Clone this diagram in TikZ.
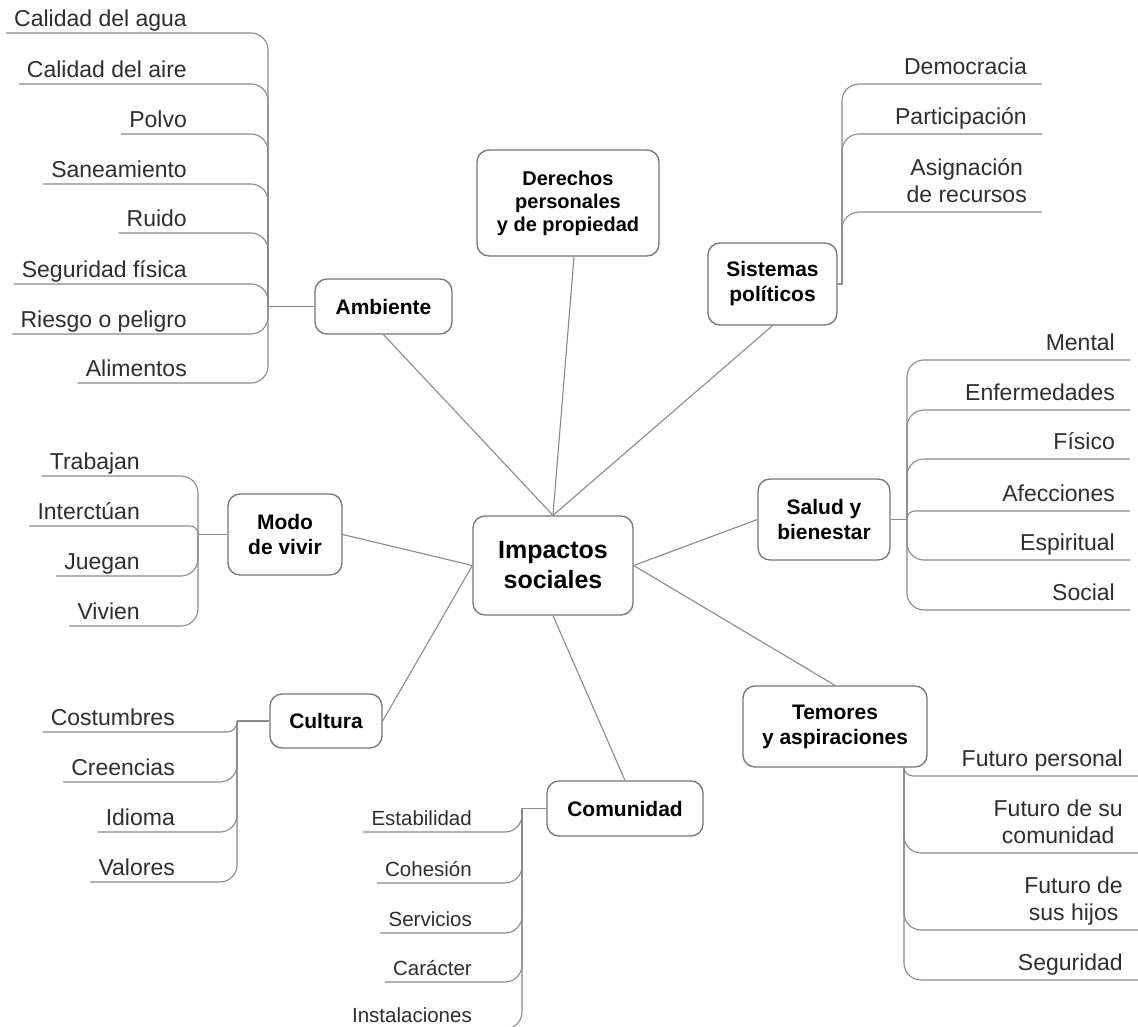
\documentclass[tikz,border=0pt]{standalone}
\usepackage{fontspec}
\setmainfont{Liberation Sans}
\definecolor{linegray}{HTML}{8A8A8A}
\definecolor{boxgray}{HTML}{767676}
\definecolor{leafink}{HTML}{2E2E2E}
\newcommand{\twolines}[2]{\begin{tabular}[b]{@{}c@{}}#1\\#2\end{tabular}}
\begin{document}
\begin{tikzpicture}[x=1pt,y=-1pt,
  link/.style={draw=linegray, line width=1.1pt},
  topic/.style={draw=boxgray, line width=1.3pt, rounded corners=12pt, fill=white,
    align=center, text=black, inner sep=0pt,
    font=\fontsize{21}{25}\selectfont\bfseries},
  leaf/.style={text=leafink, font=\fontsize{23}{27}\selectfont,
    anchor=south east, text depth=3pt},
  leafL/.style={leaf, inner xsep=8pt, inner ysep=3pt},
  leafR/.style={leaf, inner xsep=15pt, inner ysep=6pt},
  leafS/.style={leafL, font=\fontsize{20.5}{25}\selectfont}]

\path[use as bounding box, fill=white] (0,0) rectangle (1138,1027);

% main topics
\node[topic, minimum width=160pt, minimum height=99pt,
      font=\fontsize{25}{30}\selectfont\bfseries] (imp) at (553,565.5) {Impactos\\sociales};
\node[topic, minimum width=182pt, minimum height=106pt,
      font=\fontsize{20}{23}\selectfont\bfseries] (der) at (568,203) {Derechos\\personales\\y de propiedad};
\node[topic, minimum width=129pt, minimum height=82pt] (sis) at (772.5,284) {Sistemas\\políticos};
\node[topic, minimum width=137pt, minimum height=55pt] (amb) at (383.5,306.5) {Ambiente};
\node[topic, minimum width=132pt, minimum height=81pt] (sal) at (824,519.5) {Salud y\\bienestar};
\node[topic, minimum width=114pt, minimum height=81pt] (mod) at (285,534.5) {Modo\\de vivir};
\node[topic, minimum width=112pt, minimum height=54pt] (cul) at (326,721) {Cultura};
\node[topic, minimum width=156pt, minimum height=55pt] (com) at (625,808.5) {Comunidad};
\node[topic, minimum width=184pt, minimum height=81pt] (tem) at (835,726.5) {Temores\\y aspiraciones};

% spokes to the centre
\draw[link] (amb.south) -- (imp.north);
\draw[link] ([xshift=6pt]der.south) -- (imp.north);
\draw[link] (sis.south) -- (imp.north);
\draw[link] (mod.east) -- (imp.west);
\draw[link] (cul.east) -- (imp.west);
\draw[link] (com.north) -- (imp.south);
\draw[link] (sal.west) -- (imp.east);
\draw[link] (tem.north) -- (imp.east);

% branch junctions
\coordinate (jA) at (268,306.5);
\coordinate (jM) at (198,534.5);
\coordinate (jC) at (237,721);
\coordinate (jCo) at (522,808.5);
\coordinate (jS) at (842,284);
\coordinate (jSa) at (907,519.5);
\coordinate (jT) at (904,767);

\draw[link] (amb.west) -- (jA);
\draw[link] (mod.west) -- (jM);
\draw[link] (cul.west) -- (jC);
\draw[link] (com.west) -- (jCo);
\draw[link] (sis.east) -- (jS);
\draw[link] (sal.east) -- (jSa);

% Ambiente
\foreach \n/\y/\r/\t in {a1/33/17/Calidad del agua, a2/84/17/Calidad del aire,
    a3/134/17/Polvo, a4/184/17/Saneamiento, a5/233/17/Ruido,
    a6/284/17/Seguridad física, a7/334/17/Riesgo o peligro, a8/383/17/Alimentos}{
  \node[leafL] (\n) at (195,\y) {\t};
  \draw[link, rounded corners=\r pt] (jA) |- (\n.south west);
}

% Modo de vivir
\foreach \n/\y/\r/\t in {m1/476/17/Trabajan, m2/526/8/Interctúan,
    m3/576/17/Juegan, m4/626/17/Vivien}{
  \node[leafL] (\n) at (148,\y) {\t};
  \draw[link, rounded corners=\r pt] (jM) |- (\n.south west);
}

% Cultura
\foreach \n/\y/\r/\t in {c1/732/10/Costumbres, c2/782/17/Creencias,
    c3/832/17/Idioma, c4/882/17/Valores}{
  \node[leafL] (\n) at (183,\y) {\t};
  \draw[link, rounded corners=\r pt] (jC) |- (\n.south west);
}

% Comunidad
\foreach \n/\y/\r/\t in {o1/832/17/Estabilidad, o2/883/17/Cohesión,
    o3/933/17/Servicios, o4/982/17/Carácter, o5/1029/17/Instalaciones}{
  \node[leafS] (\n) at (480,\y) {\t};
  \draw[link, rounded corners=\r pt] (jCo) |- (\n.south west);
}

% Sistemas políticos
\node[leafR] (s1) at (1042,84) {Democracia};
\node[leafR] (s2) at (1042,134) {Participación};
\node[leafR] (s3) at (1042,212) {\twolines{Asignación}{de recursos}};
\foreach \n in {s1,s2,s3}{
  \draw[link, rounded corners=17pt] (jS) |- (\n.south east);
}

% Salud y bienestar
\foreach \n/\y/\r/\t in {h1/360/17/Mental, h2/410/17/Enfermedades,
    h3/459/17/Físico, h4/511/8/Afecciones, h5/560/17/Espiritual, h6/610/17/Social}{
  \node[leafR] (\n) at (1130,\y) {\t};
  \draw[link, rounded corners=\r pt] (jSa) |- (\n.south east);
}

% Temores y aspiraciones
\node[leafR] (t1) at (1138,776) {Futuro personal};
\node[leafR] (t2) at (1138,853) {\twolines{Futuro de su}{comunidad}};
\node[leafR] (t3) at (1138,930) {\twolines{Futuro de}{sus hijos}};
\node[leafR] (t4) at (1138,980) {Seguridad};
\draw[link, rounded corners=9pt] (jT) |- (t1.south east);
\foreach \n in {t2,t3,t4}{
  \draw[link, rounded corners=17pt] (jT) |- (\n.south east);
}

\end{tikzpicture}
\end{document}
